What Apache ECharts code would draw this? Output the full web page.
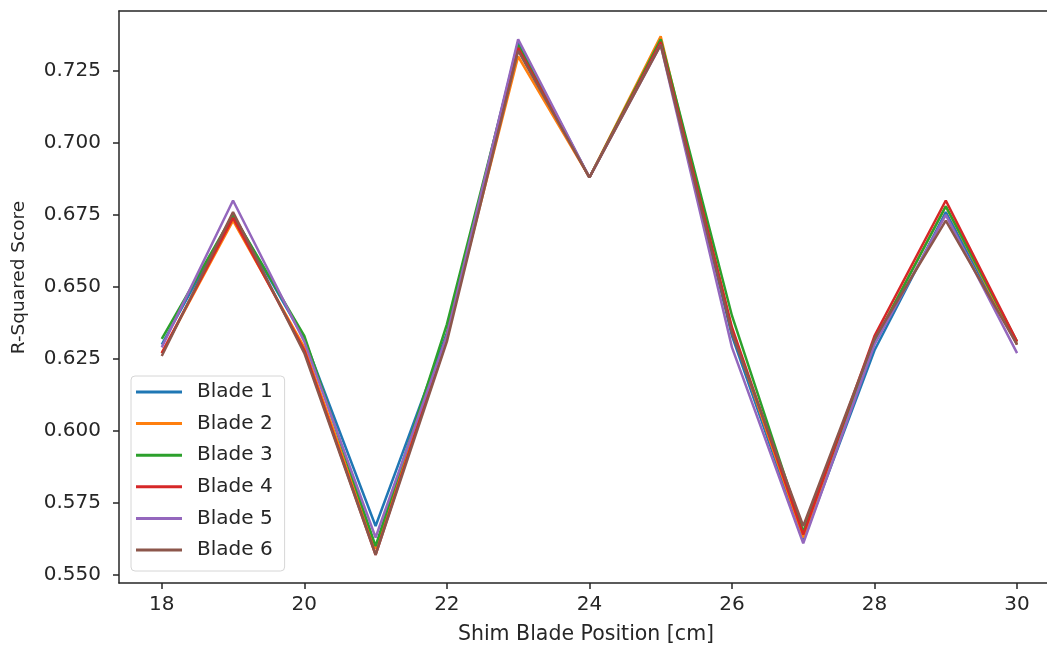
<!DOCTYPE html>
<html>
<head>
<meta charset="utf-8">
<script src="https://cdn.jsdelivr.net/npm/echarts@6/dist/echarts.min.js"></script>
<style>
html,body{margin:0;padding:0;background:#fff;}
#chart{width:1047px;height:651px;}
</style>
</head>
<body>
<div id="chart"></div>
<script>
// Data
const positions = [18, 19, 20, 21, 22, 23, 24, 25, 26, 27, 28, 29, 30];
const blade1 = [0.630, 0.675, 0.632, 0.567, 0.634, 0.735, 0.688, 0.735, 0.633, 0.562, 0.628, 0.676, 0.630];
const blade2 = [0.627, 0.673, 0.629, 0.559, 0.633, 0.730, 0.688, 0.737, 0.635, 0.563, 0.631, 0.678, 0.630];
const blade3 = [0.632, 0.675, 0.633, 0.560, 0.637, 0.734, 0.688, 0.736, 0.640, 0.565, 0.631, 0.678, 0.631];
const blade4 = [0.627, 0.674, 0.628, 0.557, 0.633, 0.733, 0.688, 0.735, 0.636, 0.564, 0.633, 0.680, 0.631];
const blade5 = [0.629, 0.680, 0.631, 0.563, 0.633, 0.736, 0.688, 0.734, 0.629, 0.561, 0.630, 0.675, 0.627];
const blade6 = [0.626, 0.676, 0.627, 0.557, 0.631, 0.732, 0.688, 0.734, 0.634, 0.567, 0.632, 0.673, 0.630];
const seriesNames = ['Blade 1', 'Blade 2', 'Blade 3', 'Blade 4', 'Blade 5', 'Blade 6'];
const seriesValues = [blade1, blade2, blade3, blade4, blade5, blade6];
const xTicks = [18, 20, 22, 24, 26, 28, 30];
const yTicks = [0.550, 0.575, 0.600, 0.625, 0.650, 0.675, 0.700, 0.725];
const colors = ['#1f77b4', '#ff7f0e', '#2ca02c', '#d62728', '#9467bd', '#8c564b'];

const FONT = 'DejaVu Sans';
const FS = 20;
const TXT = '#262626';
const AX = '#262626';

const chart = echarts.init(document.getElementById('chart'), null, {renderer: 'canvas'});
const option = {
  animation: false,
  backgroundColor: '#fff',
  color: colors,
  textStyle: {fontFamily: FONT},
  grid: {left: 119, right: 0, top: 11, bottom: 68, containLabel: false},
  legend: {
    orient: 'vertical',
    left: 131, top: 376,
    data: seriesNames,
    icon: 'rect',
    itemWidth: 46, itemHeight: 3,
    itemGap: 11.6,
    padding: [6, 12, 11, 5],
    borderColor: '#d6d6d6', borderWidth: 1, borderRadius: 4,
    backgroundColor: 'rgba(255,255,255,0.85)',
    textStyle: {fontFamily: FONT, fontSize: FS, color: TXT, lineHeight: 20, padding: [0, 0, 0, 10]}
  },
  xAxis: [{
    type: 'value', min: 17.4, max: 30.42, position: 'bottom',
    name: 'Shim Blade Position [cm]', nameLocation: 'middle', nameGap: 41,
    nameTextStyle: {fontFamily: FONT, fontSize: 20.5, color: TXT, padding: [0, 0, 0, 6]},
    splitLine: {show: false},
    axisLine: {show: true, onZero: false, lineStyle: {color: AX, width: 1.5}},
    axisTick: {show: true, length: 6, lineStyle: {color: AX, width: 1.5}, customValues: xTicks},
    axisLabel: {fontFamily: FONT, fontSize: FS, color: TXT, margin: 12, customValues: xTicks,
      formatter: v => String(v)}
  }, {
    type: 'value', min: 17.4, max: 30.42, position: 'top',
    splitLine: {show: false},
    axisLine: {show: true, onZero: false, lineStyle: {color: AX, width: 1.5}},
    axisTick: {show: false}, axisLabel: {show: false}
  }],
  yAxis: {
    type: 'value', min: 0.5472, max: 0.7458,
    name: 'R-Squared Score', nameLocation: 'middle', nameGap: 90,
    nameTextStyle: {fontFamily: FONT, fontSize: 18.5, color: TXT, padding: [0, 0, 0, 39]},
    splitLine: {show: false},
    axisLine: {show: true, onZero: false, lineStyle: {color: AX, width: 1.5}},
    axisTick: {show: true, length: 6, lineStyle: {color: AX, width: 1.5}, customValues: yTicks},
    axisLabel: {fontFamily: FONT, fontSize: FS, color: TXT, margin: 18, customValues: yTicks,
      formatter: v => v.toFixed(3)}
  },
  series: seriesNames.map((n, i) => ({
    name: n, type: 'line', xAxisIndex: 0,
    data: positions.map((p, j) => [p, seriesValues[i][j]]),
    showSymbol: false, symbol: 'none',
    lineStyle: {width: 2.5, color: colors[i]},
    itemStyle: {color: colors[i]},
    z: 2 + i
  }))
};
chart.setOption(option);
</script>
</body>
</html>
